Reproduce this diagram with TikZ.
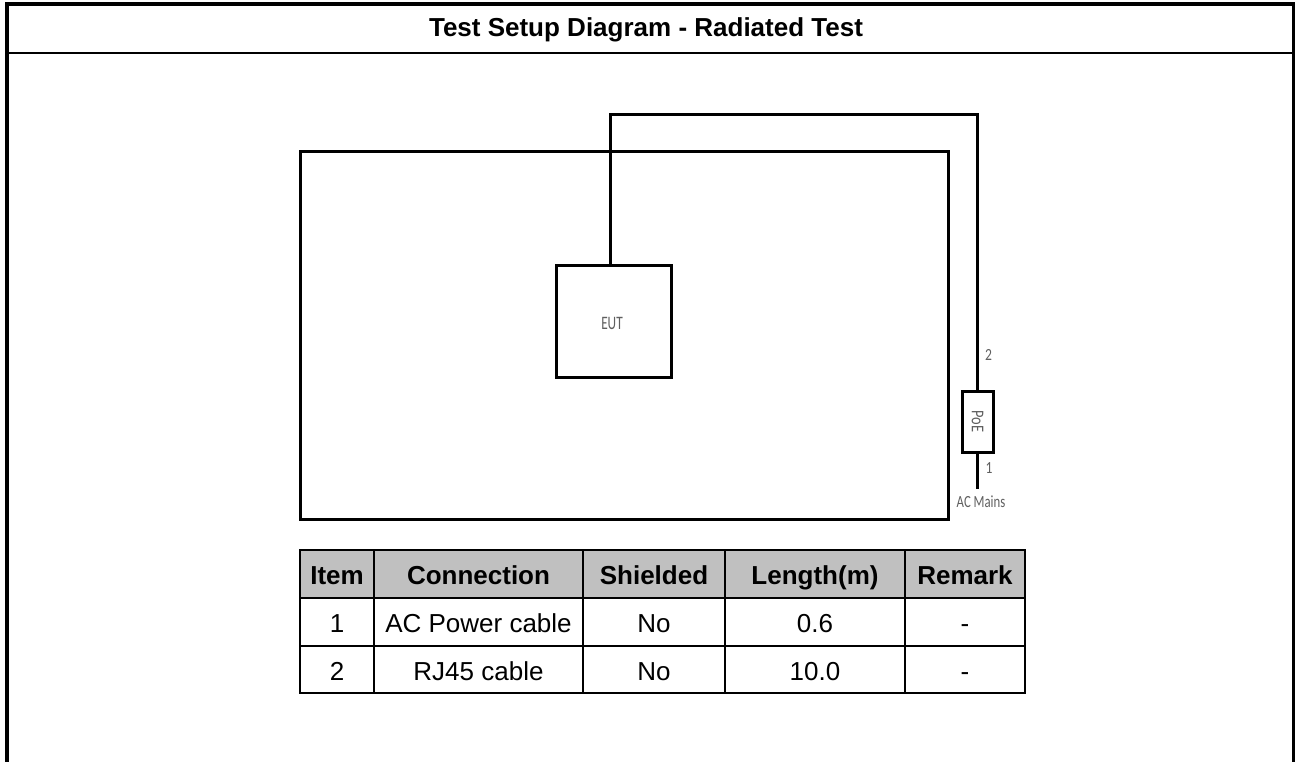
\documentclass[tikz,border=0pt]{standalone}
\usepackage{fontspec}
\setmainfont{Liberation Sans}
\newfontfamily\labfont{Carlito}
\usepackage{graphicx}
\definecolor{hdrgray}{RGB}{192,192,192}
\definecolor{labgray}{RGB}{95,95,95}
\begin{document}
\begin{tikzpicture}[x=1pt,y=-1pt,
  frameline/.style={line width=3.7pt},
  wire/.style={line width=3pt},
  boxshape/.style={draw, line width=3pt, rectangle, inner sep=0pt},
  lab/.style={text=labgray, inner sep=0pt, font=\labfont\fontsize{17}{19}\selectfont},
  grid/.style={line width=2.6pt},
  hdr/.style={font=\bfseries\fontsize{26}{30}\selectfont, inner sep=0pt, anchor=base},
  cell/.style={font=\fontsize{26}{30}\selectfont, inner sep=0pt, anchor=base}]
\useasboundingbox (0,0) rectangle (1295,762);
% outer frame
\draw[line width=4pt] (5,4.5) -- (1295,4.5);
\draw[frameline] (7,3) -- (7,762);
\draw[line width=3.5pt] (1293.3,3) -- (1293.3,762);
\draw[line width=2.3pt] (7,53) -- (1293.3,53);
\node[hdr] (title) at (646,36.5) {Test Setup Diagram - Radiated Test};
% diagram
\node[boxshape, minimum width=648, minimum height=367] (chamber) at (624,335.5) {};
\node[boxshape, minimum width=115, minimum height=112] (eut) at (613.5,321) {};
\node[lab, font=\labfont\fontsize{19}{21}\selectfont] (euttxt) at (612,323) {\scalebox{0.7}[1]{EUT}};
\node[boxshape, minimum width=31, minimum height=61] (poe) at (977.5,421.5) {};
\node[lab, rotate=-90, font=\labfont\fontsize{18}{20}\selectfont] (poetxt) at (977.5,421.5) {\scalebox{0.8}[1]{PoE}};
\coordinate (w1) at (610,115);
\coordinate (w2) at (977.5,115);
\coordinate (acend) at (977.5,489);
\draw[wire] (w1 |- eut.north) -- (w1) -- (w2) -- (poe.north);
\draw[wire] (poe.south) -- (acend);
\node[lab] (lbl2) at (988.5,355) {\scalebox{0.8}[1]{2}};
\node[lab] (lbl1) at (989,468) {\scalebox{0.8}[1]{1}};
\node[lab] (acmains) at (981,502) {\scalebox{0.75}[1]{AC Mains}};
% table
\fill[hdrgray] (300,550) rectangle (1025,598);
\draw[grid] (300,550) rectangle (1025,693);
\draw[grid] (300,598) -- (1025,598);
\draw[grid] (300,646) -- (1025,646);
\foreach \xx in {374,583,725,905} \draw[grid] (\xx,550) -- (\xx,693);
\node[hdr] (h1) at (337,584.5) {Item};
\node[hdr] (h2) at (478.5,584.5) {Connection};
\node[hdr] (h3) at (654,584.5) {Shielded};
\node[hdr] (h4) at (815,584.5) {Length(m)};
\node[hdr] (h5) at (965,584.5) {Remark};
\node[cell] (a1) at (337,632.5) {1};
\node[cell] (a2) at (478.5,632.5) {AC Power cable};
\node[cell] (a3) at (654,632.5) {No};
\node[cell] (a4) at (815,632.5) {0.6};
\node[cell] (a5) at (965,632.5) {-};
\node[cell] (b1) at (337,680) {2};
\node[cell] (b2) at (478.5,680) {RJ45 cable};
\node[cell] (b3) at (654,680) {No};
\node[cell] (b4) at (815,680) {10.0};
\node[cell] (b5) at (965,680) {-};
\end{tikzpicture}
\end{document}
